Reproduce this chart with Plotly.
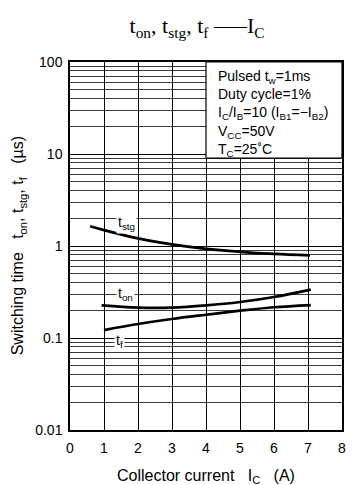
import numpy as np
import plotly.graph_objects as go

# ---- data ----
stg_x = [0.59, 1.0, 2.0, 3.0, 4.0, 5.0, 6.0, 7.06]
stg_y = [1.64, 1.49, 1.21, 1.04, 0.93, 0.865, 0.82, 0.79]

on_x = [0.93, 2.0, 3.0, 4.0, 5.0, 6.0, 7.08]
on_y = [0.226, 0.214, 0.214, 0.226, 0.246, 0.279, 0.336]

f_x = [1.0, 2.0, 3.0, 4.0, 5.0, 6.0, 7.08]
f_y = [0.122, 0.142, 0.161, 0.179, 0.198, 0.216, 0.228]

x_ticks = [0, 1, 2, 3, 4, 5, 6, 7, 8]
y_ticks = [0.01, 0.1, 1, 10, 100]
y_tick_labels = ["0.01", "0.1", "1", "10", "100"]
y_minor = [k * 10.0 ** d for d in range(-2, 2) for k in range(2, 10)]

curve_labels = ["t<sub>stg</sub>", "t<sub>on</sub>", "t<sub>f</sub>"]
label_x = [1.67, 1.62, 1.47]
label_y = [1.80, 0.300, 0.092]

cond_lines = [
    "Pulsed t<sub>w</sub>=1ms",
    "Duty cycle=1%",
    "I<sub>C</sub>/I<sub>B</sub>=10 (I<sub>B1</sub>=\u2212I<sub>B2</sub>)",
    "V<sub>CC</sub>=50V",
    "T<sub>C</sub>=25\u02daC",
]

FONT = "Liberation Sans, Arial, sans-serif"

fig = go.Figure()
for xs, ys in [(stg_x, stg_y), (on_x, on_y), (f_x, f_y)]:
    fig.add_trace(go.Scatter(x=xs, y=ys, mode="lines",
                             line=dict(color="black", width=2.7, shape="spline", smoothing=1.0),
                             showlegend=False, hoverinfo="skip"))

for txt, lx, ly in zip(curve_labels, label_x, label_y):
    fig.add_annotation(x=lx, y=np.log10(ly), xref="x", yref="y", text=txt,
                       showarrow=False, bgcolor="white", borderpad=1,
                       font=dict(family=FONT, size=14, color="black"))

# conditions box (upper right, covering the grid)
fig.add_shape(type="rect", xref="x", yref="paper", x0=4, x1=8, y0=0.739, y1=1.0,
              fillcolor="white", line=dict(color="black", width=1.2), layer="above")
fig.add_annotation(x=4.28, y=0.988, xref="x", yref="paper", xanchor="left", yanchor="top",
                   align="left", showarrow=False, text="<br>".join(cond_lines),
                   font=dict(family=FONT, size=14, color="black"))

# y-axis title
fig.add_annotation(x=-0.19, y=0.5, xref="paper", yref="paper", textangle=-90,
                   xanchor="center", yanchor="middle", showarrow=False,
                   text="Switching time   t<sub>on</sub>, t<sub>stg</sub>, t<sub>f</sub>   (\u00b5s)",
                   font=dict(family=FONT, size=16, color="black"))

# x-axis title
fig.add_annotation(x=0.5, y=-0.125, xref="paper", yref="paper",
                   xanchor="center", yanchor="middle", showarrow=False,
                   text="Collector current   I<sub>C</sub>   (A)",
                   font=dict(family=FONT, size=16, color="black"))

fig.update_layout(
    width=355, height=485,
    margin=dict(l=70, r=13, t=62, b=55, autoexpand=False),
    paper_bgcolor="white", plot_bgcolor="white",
    font=dict(family=FONT, size=14, color="black"),
    title=dict(text="t<sub>on</sub>, t<sub>stg</sub>, t<sub>f</sub> \u2014\u2013I<sub>C</sub>",
               x=0.555, xanchor="center", y=0.948, yanchor="middle",
               font=dict(family="Liberation Serif, Times New Roman, serif", size=22, color="black")),
)
fig.update_xaxes(range=[0, 8], tickvals=x_ticks, showgrid=True, gridcolor="black", gridwidth=1,
                 showline=True, mirror=True, linecolor="black", linewidth=1.5,
                 ticks="outside", ticklen=4, tickcolor="rgba(0,0,0,0)",
                 tickfont=dict(size=14), zeroline=False, automargin=False)
fig.update_yaxes(type="log", range=[-2, 2], tickvals=y_ticks, ticktext=y_tick_labels,
                 showgrid=True, gridcolor="black", gridwidth=1,
                 minor=dict(tickvals=y_minor, showgrid=True, gridcolor="#3a3a3a", gridwidth=1, ticks=""),
                 showline=True, mirror=True, linecolor="black", linewidth=1.5,
                 ticks="outside", ticklen=3, tickcolor="rgba(0,0,0,0)",
                 tickfont=dict(size=14), zeroline=False, automargin=False)

fig.write_html("out.html")
